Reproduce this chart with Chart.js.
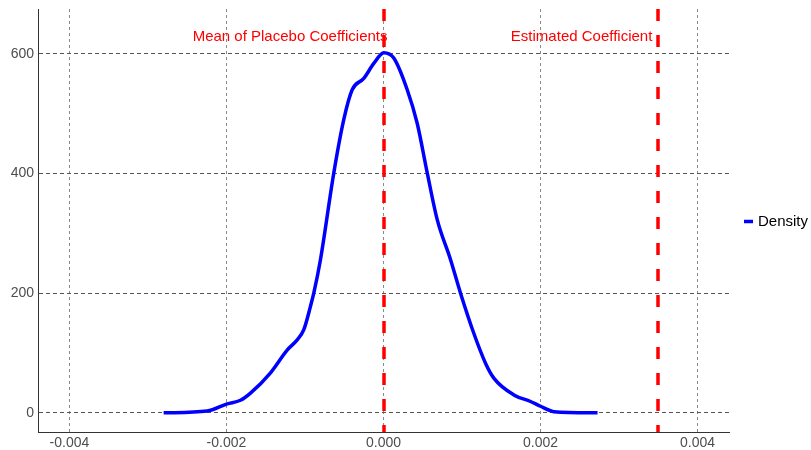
<!DOCTYPE html>
<html>
<head>
<meta charset="utf-8">
<script src="https://cdn.jsdelivr.net/npm/chart.js@4"></script>
<style>
  body { margin: 0; background: #fff; }
  #wrap { width: 811px; height: 450px; }
</style>
</head>
<body>
<div id="wrap"><canvas id="densityChart"></canvas></div>
<script>
// placebo coefficient density
const coefX = [-0.00280, -0.002246, -0.001991, -0.001822, -0.001694, -0.001439, -0.001227, -0.001099,
    -0.001015, -0.000930, -0.000888, -0.000803, -0.000633, -0.000506, -0.000399, -0.000251, -0.000124,
    0.000004, 0.000131, 0.000302, 0.000429, 0.000557, 0.000684, 0.000854, 0.000981, 0.001150, 0.001299,
    0.001405, 0.001660, 0.001873, 0.002000, 0.002169, 0.002726];
const density = [0, 3, 15, 21, 33, 67, 105, 122,
    139, 178, 200, 256, 401, 490, 540, 559, 584,
    602, 593, 540, 484, 401, 323, 256, 200, 133, 83,
    58, 30, 19, 11, 2, 0];

const xTicks = [-0.004, -0.002, 0, 0.002, 0.004];
const yTicks = [0, 200, 400, 600];

const refLines = [0, 0.0035];
const refLabels = ['Mean of Placebo Coefficients', 'Estimated Coefficient'];

const FONT = '"Liberation Sans", Arial, sans-serif';

const refLinePlugin = {
    id: 'refLines',
    afterDatasetsDraw(chart) {
        const { ctx, chartArea, scales } = chart;
        ctx.save();
        ctx.strokeStyle = '#FF0000';
        ctx.lineWidth = 3.5;
        ctx.setLineDash([12, 14]);
        refLines.forEach(v => {
            const px = Math.round(scales.x.getPixelForValue(v));
            ctx.beginPath();
            ctx.moveTo(px, chartArea.top);
            ctx.lineTo(px, chartArea.bottom);
            ctx.stroke();
        });
        ctx.setLineDash([]);
        ctx.fillStyle = '#FF0000';
        ctx.font = '15px ' + FONT;
        ctx.textAlign = 'right';
        ctx.textBaseline = 'middle';
        ctx.fillText(refLabels[0], scales.x.getPixelForValue(refLines[0]) + 4, 37);
        ctx.fillText(refLabels[1], scales.x.getPixelForValue(refLines[1]) - 6, 37);
        ctx.restore();
    }
};

// legend drawn by hand so it sits where ggplot puts it
const sideLegend = {
    id: 'sideLegend',
    afterDraw(chart) {
        const { ctx, chartArea } = chart;
        const ds = chart.data.datasets[0];
        const y = (chartArea.top + chartArea.bottom) / 2 + 1;
        const x0 = chartArea.right + 15;
        ctx.save();
        ctx.strokeStyle = ds.borderColor;
        ctx.lineWidth = 3.5;
        ctx.beginPath();
        ctx.moveTo(x0, y);
        ctx.lineTo(x0 + 9, y);
        ctx.stroke();
        ctx.fillStyle = '#000';
        ctx.font = '15px ' + FONT;
        ctx.textBaseline = 'middle';
        ctx.fillText(ds.label, x0 + 14, y);
        ctx.restore();
    }
};

new Chart(document.getElementById('densityChart'), {
    type: 'line',
    data: {
        datasets: [{
            label: 'Density',
            data: coefX.map((x, i) => ({ x: x, y: density[i] })),
            borderColor: '#0000FF',
            backgroundColor: '#0000FF',
            borderWidth: 3.5,
            pointRadius: 0,
            cubicInterpolationMode: 'monotone',
            fill: false
        }]
    },
    options: {
        responsive: true,
        maintainAspectRatio: false,
        animation: false,
        layout: { padding: { top: 9, left: 0, right: 82, bottom: 0 } },
        plugins: {
            tooltip: { enabled: false },
            legend: { display: false }
        },
        scales: {
            x: {
                type: 'linear',
                min: -0.0044,
                max: 0.0044,
                afterBuildTicks: s => { s.ticks = xTicks.map(v => ({ value: v })); },
                afterFit: s => { s.height = 18; },
                ticks: {
                    color: '#4D4D4D',
                    padding: 3,
                    font: { size: 14, family: FONT },
                    callback: v => v.toFixed(3)
                },
                grid: { color: '#8a8a8a', lineWidth: 1, drawTicks: false },
                border: { display: true, color: '#333', width: 1, dash: [3, 3] }
            },
            y: {
                min: -32,
                max: 675,
                afterBuildTicks: s => { s.ticks = yTicks.map(v => ({ value: v })); },
                afterFit: s => { s.width = 38; s.paddingTop = 0; s.paddingBottom = 0; },
                ticks: {
                    color: '#4D4D4D',
                    padding: 4,
                    font: { size: 14, family: FONT }
                },
                grid: { color: '#555', lineWidth: 1, drawTicks: false },
                border: { display: true, color: '#333', width: 1, dash: [4, 3] }
            }
        }
    },
    plugins: [refLinePlugin, sideLegend]
});
</script>
</body>
</html>
